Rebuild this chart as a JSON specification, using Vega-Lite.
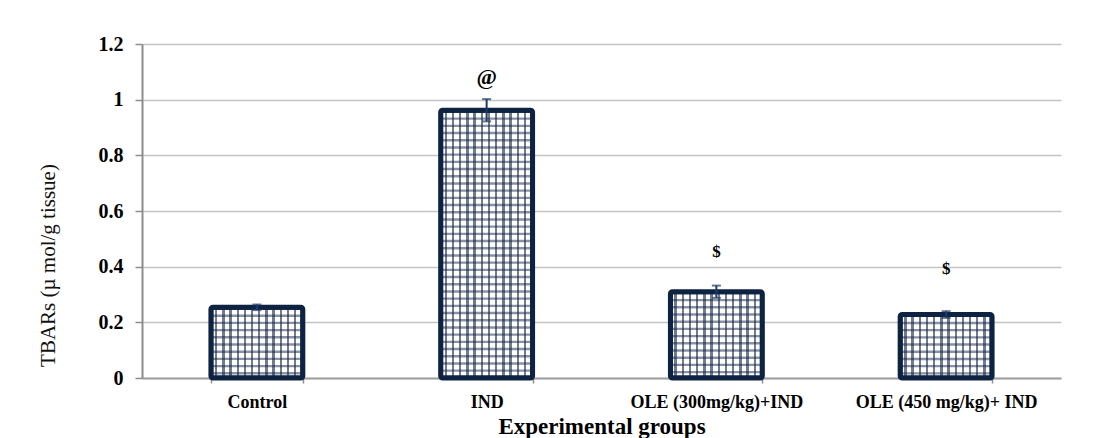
{
  "$schema": "https://vega.github.io/schema/vega-lite/v6.json",
  "width": 919,
  "height": 334,
  "autosize": {"type": "none"},
  "padding": {"left": 142, "top": 44, "right": 35, "bottom": 60},
  "background": "#ffffff",
  "config": {"view": {"stroke": null}},
  "data": {
    "values": [
      {"group": "Control", "value": 0.254, "err": 0.01, "sig": "", "sigY": null},
      {"group": "IND", "value": 0.962, "err": 0.04, "sig": "@", "sigY": 1.083},
      {"group": "OLE (300mg/kg)+IND", "value": 0.31, "err": 0.022, "sig": "$", "sigY": 0.453},
      {"group": "OLE (450 mg/kg)+ IND", "value": 0.228, "err": 0.012, "sig": "$", "sigY": 0.393}
    ]
  },
  "encoding": {
    "x": {
      "field": "group",
      "type": "nominal",
      "sort": null,
      "scale": {"type": "band", "paddingInner": 0.6, "paddingOuter": 0.3},
      "axis": {
        "title": "Experimental groups",
        "labelAngle": 0,
        "labelFont": "Liberation Serif",
        "labelFontWeight": "bold",
        "labelFontSize": 18,
        "labelColor": "#000000",
        "labelPadding": 10,
        "labelLimit": 0,
        "labelOverlap": false,
        "tickSize": 5,
        "tickBand": "extent",
        "tickColor": "#8c8c8c",
        "tickWidth": 1.5,
        "domainColor": "#a0a0a0",
        "domainWidth": 2,
        "grid": false,
        "titleFont": "Liberation Serif",
        "titleFontSize": 23,
        "titleFontWeight": "bold",
        "titleColor": "#000000",
        "titleY": 55,
        "titleBaseline": "alphabetic"
      }
    }
  },
  "layer": [
    {
      "mark": {"type": "bar", "fill": "#ffffff", "stroke": null},
      "encoding": {
        "y": {
          "field": "value",
          "type": "quantitative",
          "title": "TBARs  (µ mol/g tissue)",
          "scale": {"domain": [0, 1.2], "nice": false},
          "axis": {
            "values": [0, 0.2, 0.4, 0.6, 0.8, 1, 1.2],
            "format": "~g",
            "labelFont": "Liberation Serif",
            "labelFontWeight": "bold",
            "labelFontSize": 20,
            "labelColor": "#000000",
            "labelPadding": 12,
            "tickSize": 7,
            "tickColor": "#8c8c8c",
            "tickWidth": 1.5,
            "domainColor": "#8c8c8c",
            "domainWidth": 2,
            "gridColor": "#c4c4c4",
            "gridWidth": 1.5,
            "titleFont": "Liberation Serif",
            "titleFontWeight": "normal",
            "titleFontSize": 21,
            "titleColor": "#111111",
            "titleAngle": 270,
            "titleX": -94,
            "titleY": 221,
            "titleAlign": "center",
            "titleBaseline": "middle"
          }
        }
      }
    },
    {
      "mark": {"type": "rule", "color": "rgba(19,36,70,0.5)", "strokeWidth": 92, "strokeDash": [2.4, 4.8], "strokeCap": "butt"},
      "encoding": {
        "y": {"field": "value", "type": "quantitative", "title": "TBARs  (µ mol/g tissue)"},
        "y2": {"datum": 0}
      }
    },
    {
      "mark": {
        "type": "bar",
        "stroke": null,
        "fill": {
          "gradient": "linear",
          "x1": 0, "x2": 1, "y1": 0, "y2": 0,
          "stops": [
            {"offset": 0, "color": "rgba(19,36,70,0)"},
            {"offset": 0.0435, "color": "rgba(19,36,70,0)"},
            {"offset": 0.0435, "color": "rgba(19,36,70,0.6)"},
            {"offset": 0.0696, "color": "rgba(19,36,70,0.6)"},
            {"offset": 0.0696, "color": "rgba(19,36,70,0)"},
            {"offset": 0.1217, "color": "rgba(19,36,70,0)"},
            {"offset": 0.1217, "color": "rgba(19,36,70,0.6)"},
            {"offset": 0.1478, "color": "rgba(19,36,70,0.6)"},
            {"offset": 0.1478, "color": "rgba(19,36,70,0)"},
            {"offset": 0.2, "color": "rgba(19,36,70,0)"},
            {"offset": 0.2, "color": "rgba(19,36,70,0.6)"},
            {"offset": 0.2261, "color": "rgba(19,36,70,0.6)"},
            {"offset": 0.2261, "color": "rgba(19,36,70,0)"},
            {"offset": 0.2783, "color": "rgba(19,36,70,0)"},
            {"offset": 0.2783, "color": "rgba(19,36,70,0.6)"},
            {"offset": 0.3043, "color": "rgba(19,36,70,0.6)"},
            {"offset": 0.3043, "color": "rgba(19,36,70,0)"},
            {"offset": 0.3565, "color": "rgba(19,36,70,0)"},
            {"offset": 0.3565, "color": "rgba(19,36,70,0.6)"},
            {"offset": 0.3826, "color": "rgba(19,36,70,0.6)"},
            {"offset": 0.3826, "color": "rgba(19,36,70,0)"},
            {"offset": 0.4348, "color": "rgba(19,36,70,0)"},
            {"offset": 0.4348, "color": "rgba(19,36,70,0.6)"},
            {"offset": 0.4609, "color": "rgba(19,36,70,0.6)"},
            {"offset": 0.4609, "color": "rgba(19,36,70,0)"},
            {"offset": 0.513, "color": "rgba(19,36,70,0)"},
            {"offset": 0.513, "color": "rgba(19,36,70,0.6)"},
            {"offset": 0.5391, "color": "rgba(19,36,70,0.6)"},
            {"offset": 0.5391, "color": "rgba(19,36,70,0)"},
            {"offset": 0.5913, "color": "rgba(19,36,70,0)"},
            {"offset": 0.5913, "color": "rgba(19,36,70,0.6)"},
            {"offset": 0.6174, "color": "rgba(19,36,70,0.6)"},
            {"offset": 0.6174, "color": "rgba(19,36,70,0)"},
            {"offset": 0.6696, "color": "rgba(19,36,70,0)"},
            {"offset": 0.6696, "color": "rgba(19,36,70,0.6)"},
            {"offset": 0.6957, "color": "rgba(19,36,70,0.6)"},
            {"offset": 0.6957, "color": "rgba(19,36,70,0)"},
            {"offset": 0.7478, "color": "rgba(19,36,70,0)"},
            {"offset": 0.7478, "color": "rgba(19,36,70,0.6)"},
            {"offset": 0.7739, "color": "rgba(19,36,70,0.6)"},
            {"offset": 0.7739, "color": "rgba(19,36,70,0)"},
            {"offset": 0.8261, "color": "rgba(19,36,70,0)"},
            {"offset": 0.8261, "color": "rgba(19,36,70,0.6)"},
            {"offset": 0.8522, "color": "rgba(19,36,70,0.6)"},
            {"offset": 0.8522, "color": "rgba(19,36,70,0)"},
            {"offset": 0.9043, "color": "rgba(19,36,70,0)"},
            {"offset": 0.9043, "color": "rgba(19,36,70,0.6)"},
            {"offset": 0.9304, "color": "rgba(19,36,70,0.6)"},
            {"offset": 0.9304, "color": "rgba(19,36,70,0)"},
            {"offset": 1, "color": "rgba(19,36,70,0)"}
          ]
        }
      },
      "encoding": {
        "y": {"field": "value", "type": "quantitative", "title": "TBARs  (µ mol/g tissue)"}
      }
    },
    {
      "mark": {"type": "bar", "fill": "transparent", "stroke": "#0e2342", "strokeWidth": 5, "cornerRadius": 2},
      "encoding": {
        "y": {"field": "value", "type": "quantitative", "title": "TBARs  (µ mol/g tissue)"}
      }
    },
    {
      "mark": {
        "type": "errorbar",
        "color": "#1f3a68",
        "ticks": {"size": 9, "thickness": 2, "color": "#1f3a68"},
        "rule": {"strokeWidth": 2, "color": "#1f3a68"}
      },
      "encoding": {
        "y": {"field": "value", "type": "quantitative", "title": "TBARs  (µ mol/g tissue)"},
        "yError": {"field": "err"}
      }
    },
    {
      "mark": {"type": "text", "font": "Liberation Serif", "fontWeight": "bold", "color": "#000000", "baseline": "middle", "align": "center"},
      "encoding": {
        "y": {"field": "sigY", "type": "quantitative", "title": "TBARs  (µ mol/g tissue)"},
        "text": {"field": "sig"},
        "size": {"condition": {"test": "datum.sig == '@'", "value": 22}, "value": 17}
      }
    }
  ]
}
